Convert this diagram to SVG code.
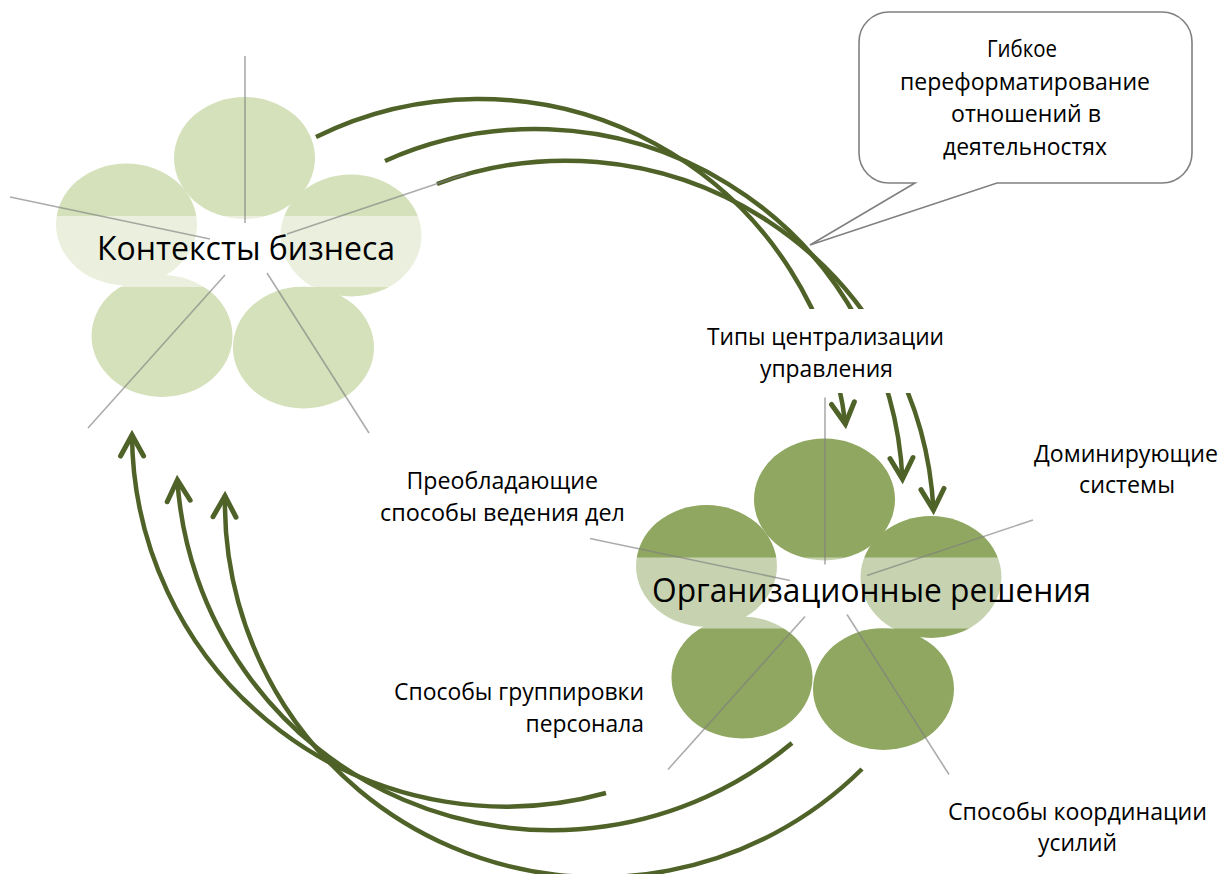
<svg xmlns="http://www.w3.org/2000/svg" width="1228" height="874" viewBox="0 0 1228 874">
<style>
.arc{fill:none;stroke:#4f6228;stroke-width:4.5;marker-end:url(#ah)}
.ray{stroke:#7f7f7f;stroke-opacity:0.65;stroke-width:1.6;fill:none}
.band{fill:#ffffff;fill-opacity:0.5}
.light{fill:#d4e1ba}
.dark{fill:#8fa760}
.lbl{font-family:"Open Sans","Noto Sans","DejaVu Sans",sans-serif;font-size:23px;fill:#000}
.big{font-size:32px}
.co{font-size:24px}
</style>
<defs>
<marker id="ah" markerUnits="userSpaceOnUse" markerWidth="40" markerHeight="40" viewBox="-30 -20 40 40" refX="0" refY="0" orient="auto" overflow="visible">
<path d="M -22 -11.5 L -1 0 L -22 11.5" fill="none" stroke="#4f6228" stroke-width="5" stroke-linecap="round" stroke-linejoin="miter"/>
</marker>
</defs>
<rect width="1228" height="874" fill="#ffffff"/>
<g id="connectors">
<path class="arc" d="M 316 137 A 369 369 0 0 1 845.5 425"/>
<path class="arc" d="M 385 161 A 368 368 0 0 1 902.5 480"/>
<path class="arc" d="M 437 184 A 368 368 0 0 1 933.5 511"/>
<path class="arc" d="M 606 793 A 374 374 0 0 1 132 434"/>
<path class="arc" d="M 792 743 A 375 375 0 0 1 177.3 479"/>
<path class="arc" d="M 862 769 A 374 374 0 0 1 225 495"/>
</g>
<g id="node-contexts">
<ellipse class="light" cx="244.5" cy="158" rx="70.5" ry="61"/>
<ellipse class="light" cx="126.5" cy="224.5" rx="70.5" ry="61"/>
<ellipse class="light" cx="351" cy="235.5" rx="70.5" ry="61"/>
<ellipse class="light" cx="162" cy="336" rx="70.5" ry="61"/>
<ellipse class="light" cx="303.5" cy="347.5" rx="70.5" ry="61"/>
<rect class="band" x="56" y="216" width="366" height="71"/>
<line class="ray" x1="245" y1="56" x2="245" y2="223"/>
<line class="ray" x1="10" y1="197" x2="210" y2="239"/>
<line class="ray" x1="287" y1="234" x2="466" y2="174"/>
<line class="ray" x1="225" y1="275" x2="88" y2="428"/>
<line class="ray" x1="267" y1="273" x2="369" y2="433"/>
<text class="lbl big" x="97" y="260" textLength="298" lengthAdjust="spacingAndGlyphs">Контексты бизнеса</text>
</g>
<g id="node-decisions">
<ellipse class="dark" cx="824.5" cy="499.5" rx="70.5" ry="61"/>
<ellipse class="dark" cx="706.5" cy="566" rx="70.5" ry="61"/>
<ellipse class="dark" cx="931" cy="577" rx="70.5" ry="61"/>
<ellipse class="dark" cx="742" cy="677.5" rx="70.5" ry="61"/>
<ellipse class="dark" cx="883.5" cy="689" rx="70.5" ry="61"/>
<rect class="band" x="636" y="557.5" width="366" height="71"/>
<line class="ray" x1="825" y1="397.5" x2="825" y2="564.5"/>
<line class="ray" x1="590" y1="538.5" x2="790" y2="580.5"/>
<line class="ray" x1="867" y1="575.5" x2="1033" y2="520"/>
<line class="ray" x1="805" y1="616.5" x2="668" y2="769.5"/>
<line class="ray" x1="847" y1="614.5" x2="949" y2="774.5"/>
<text class="lbl big" x="652" y="602" textLength="439" lengthAdjust="spacingAndGlyphs">Организационные решения</text>
</g>
<g id="label-centralization">
<rect x="700" y="309" width="250" height="84" fill="#ffffff"/>
<text class="lbl" x="707" y="345" textLength="237" lengthAdjust="spacingAndGlyphs">Типы централизации</text>
<text class="lbl" x="760" y="377" textLength="133" lengthAdjust="spacingAndGlyphs">управления</text>
</g>
<g id="label-dominant">
<text class="lbl" x="1034" y="462" textLength="184" lengthAdjust="spacingAndGlyphs">Доминирующие</text>
<text class="lbl" x="1079" y="493" textLength="96" lengthAdjust="spacingAndGlyphs">системы</text>
</g>
<g id="label-ways">
<text class="lbl" x="406.5" y="489" textLength="191.5" lengthAdjust="spacingAndGlyphs">Преобладающие</text>
<text class="lbl" x="380" y="521" textLength="245" lengthAdjust="spacingAndGlyphs">способы ведения дел</text>
</g>
<g id="label-grouping">
<text class="lbl" x="394" y="700" textLength="250" lengthAdjust="spacingAndGlyphs">Способы группировки</text>
<text class="lbl" x="525.5" y="732" textLength="118.5" lengthAdjust="spacingAndGlyphs">персонала</text>
</g>
<g id="label-coordination">
<text class="lbl" x="948" y="820" textLength="259" lengthAdjust="spacingAndGlyphs">Способы координации</text>
<text class="lbl" x="1038" y="851" textLength="79" lengthAdjust="spacingAndGlyphs">усилий</text>
</g>
<g id="callout">
<path d="M 889 12 H 1162 A 30 30 0 0 1 1192 42 V 153 A 30 30 0 0 1 1162 183 H 997 L 810 245 L 915 183 H 889 A 30 30 0 0 1 859 153 V 42 A 30 30 0 0 1 889 12 Z" fill="#ffffff" stroke="#808080" stroke-width="1.6"/>
<text class="lbl co" x="987" y="57" textLength="70" lengthAdjust="spacingAndGlyphs">Гибкое</text>
<text class="lbl co" x="900" y="89.5" textLength="250" lengthAdjust="spacingAndGlyphs">переформатирование</text>
<text class="lbl co" x="951" y="122" textLength="150" lengthAdjust="spacingAndGlyphs">отношений в</text>
<text class="lbl co" x="943" y="154.5" textLength="164" lengthAdjust="spacingAndGlyphs">деятельностях</text>
</g>
</svg>
